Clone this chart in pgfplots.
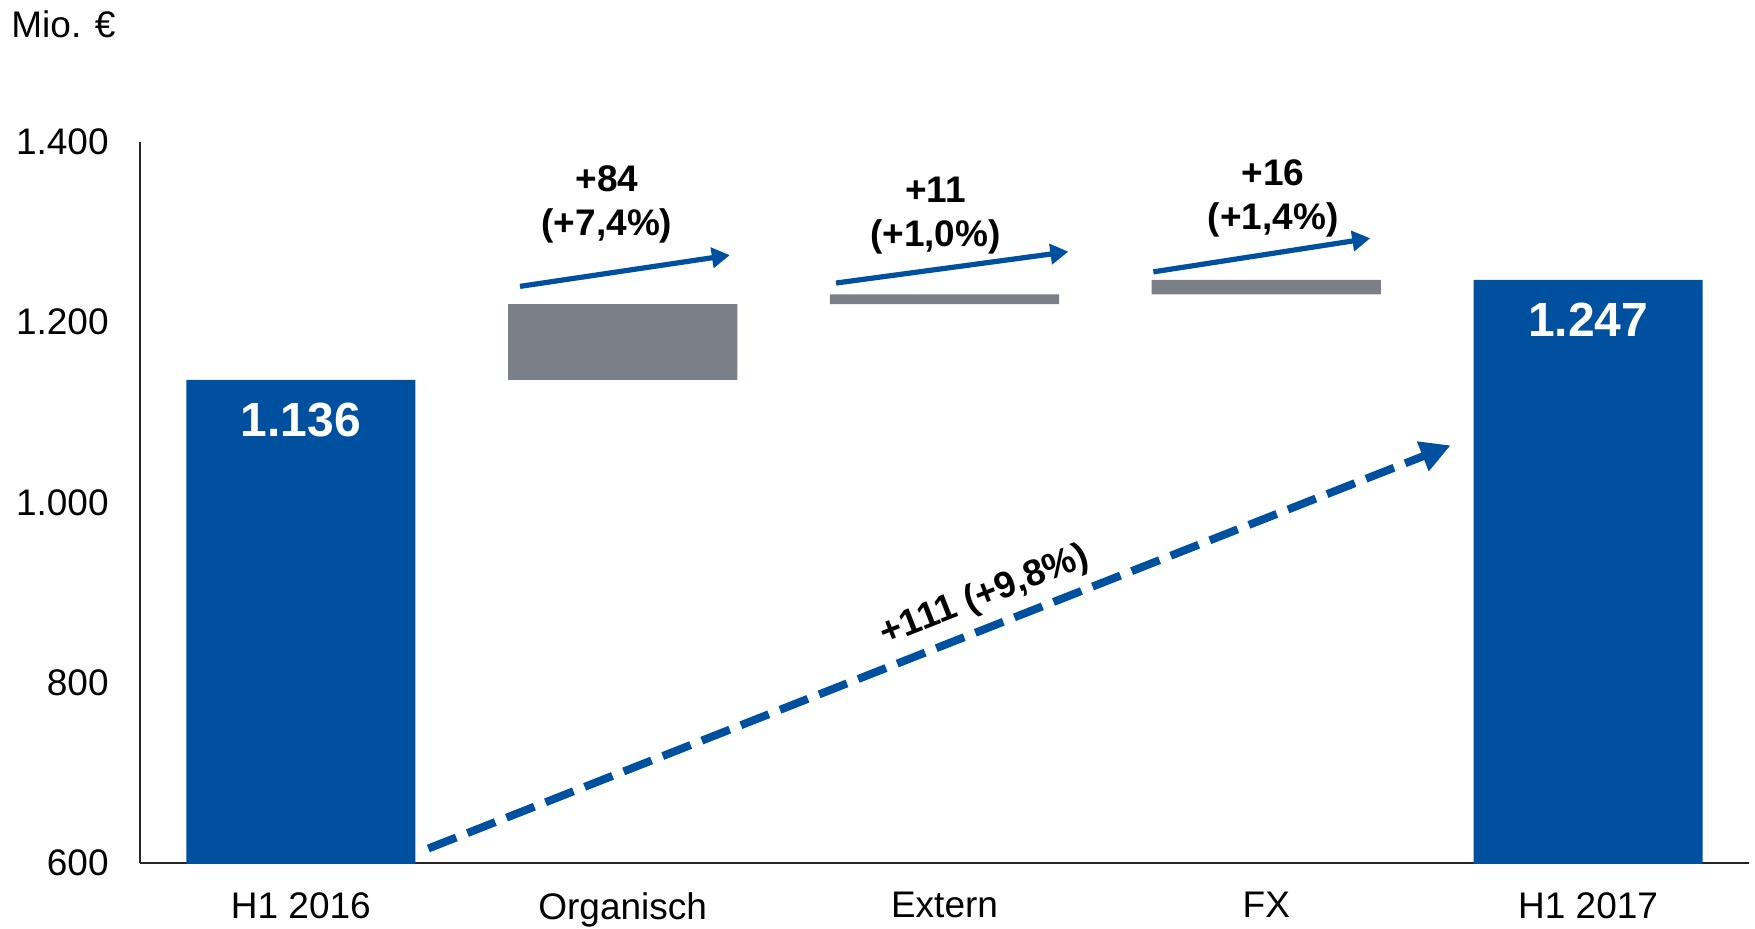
\documentclass[border=0pt]{standalone}
\usepackage{pgfplots}
\pgfplotsset{compat=1.18}
\usepackage{fontspec}
\setmainfont{Liberation Sans}
\usetikzlibrary{arrows.meta}
\definecolor{myblue}{RGB}{0,80,160}
\definecolor{mygray}{RGB}{123,128,136}
\begin{document}
\begin{tikzpicture}
\begin{axis}[
  scale only axis,
  width=804.5pt, height=360.5pt,
  anchor=south west, at={(0pt,0pt)},
  xmin=-0.5, xmax=4.5, ymin=600, ymax=1400,
  ybar stacked, bar width=0.712,
  axis x line=bottom, axis y line=left,
  axis line style={-, line width=0.8pt, black!85},
  major tick length=0pt,
  xtick={0,1,2,3,4},
  xticklabels={H1 2016,Organisch,Extern,FX,H1 2017},
  ytick={600,800,1000,1200,1400},
  yticklabels={600,800,1.000,1.200,1.400},
  ticklabel style={font=\fontsize{18.5}{22}\selectfont, text=black},
  yticklabel style={anchor=east, inner sep=0pt, xshift=-15.5pt},
  xticklabel style={anchor=north, inner sep=0pt, yshift=-14.5pt},
]
\addplot[draw=none, fill=none] coordinates {(0,0) (1,1136) (2,1220) (3,1231) (4,0)};
\addplot[draw=none, fill=myblue] coordinates {(0,1136) (1,0) (2,0) (3,0) (4,1247)};
\addplot[draw=none, fill=mygray] coordinates {(0,0) (1,84) (2,11) (3,16) (4,0)};

% step arrows
\draw[myblue, line width=2.6pt, -{Triangle[length=9pt,width=10pt]}] (axis cs:0.681,1239.8) -- (axis cs:1.333,1274.5);
\draw[myblue, line width=2.6pt, -{Triangle[length=9pt,width=10pt]}] (axis cs:1.663,1243.5) -- (axis cs:2.385,1278.3);
\draw[myblue, line width=2.6pt, -{Triangle[length=9pt,width=10pt]}] (axis cs:2.649,1255.9) -- (axis cs:3.323,1293.2);
% total dashed arrow
\draw[myblue, line width=4pt, dash pattern=on 15pt off 6pt, -{Triangle[length=15pt,width=15pt]}] (axis cs:0.396,616.1) -- (axis cs:3.573,1063.4);

\coordinate (l84) at (axis cs:0.951,1331);
\coordinate (l11) at (axis cs:1.972,1318);
\coordinate (l16) at (axis cs:3.021,1337);
\coordinate (l111) at (axis cs:2.125,896);
\coordinate (v1) at (axis cs:0,1092);
\coordinate (v2) at (axis cs:4,1202.5);
\end{axis}
\node[font=\bfseries\fontsize{18.5}{22}\selectfont, align=center] at (l84) {+84\\(+7,4\%)};
\node[font=\bfseries\fontsize{18.5}{22}\selectfont, align=center] at (l11) {+11\\(+1,0\%)};
\node[font=\bfseries\fontsize{18.5}{22}\selectfont, align=center] at (l16) {+16\\(+1,4\%)};
\node[font=\bfseries\fontsize{18.5}{22}\selectfont, rotate=21.5] at (l111) {+111 (+9,8\%)};
\node[font=\bfseries\fontsize{24}{28}\selectfont, text=white] at (v1) {1.136};
\node[font=\bfseries\fontsize{24}{28}\selectfont, text=white] at (v2) {1.247};
\node[anchor=west, inner sep=0pt, font=\fontsize{18.5}{22}\selectfont] at (-64.5pt,419.2pt) {Mio. €};
\pgfresetboundingbox
\path[use as bounding box] (-70pt,-32.5pt) rectangle (807.5pt,431.5pt);
\end{tikzpicture}
\end{document}
